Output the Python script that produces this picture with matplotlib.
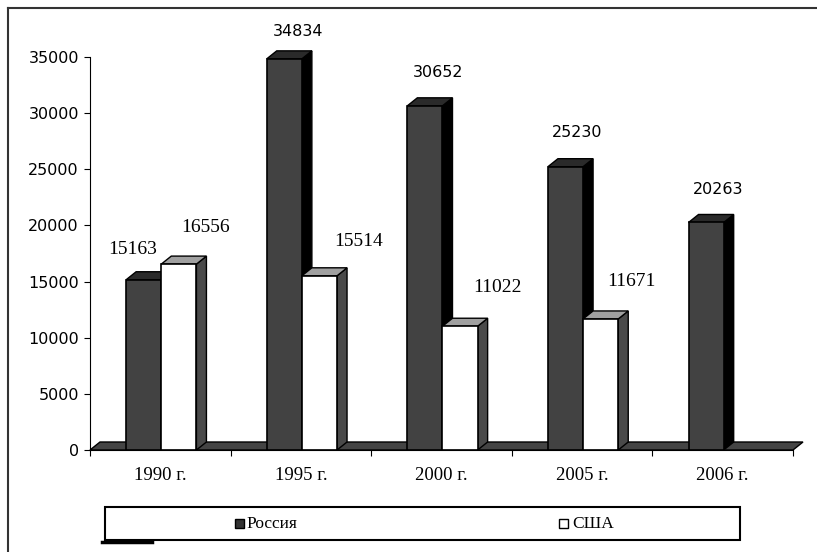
import numpy as np
import matplotlib
matplotlib.use("Agg")
import matplotlib.pyplot as plt
from matplotlib.patches import Polygon, Rectangle
from matplotlib.lines import Line2D

# Data
years = ["1990 г.", "1995 г.", "2000 г.", "2005 г.", "2006 г."]
russia = [15163, 34834, 30652, 25230, 20263]
usa = [16556, 15514, 11022, 11671, None]
series_names = ["Россия", "США"]

# label offsets in pixels (dx, dy) from the top centre of each bar
russia_offsets = [(-11, 30), (14, 27), (13, 33), (12, 34), (12, 33)]
usa_offsets = [(27, 37), (39, 34), (37, 39), (31, 37), (0, 0)]
russia_fonts = ["Liberation Serif", "DejaVu Sans", "DejaVu Sans", "DejaVu Sans", "DejaVu Sans"]

W, H = 817, 552
fig = plt.figure(figsize=(W / 100, H / 100), dpi=100)

# outer frame (left and top only visible)
fig.add_artist(Line2D([8 / W, 8 / W], [0, 1 - 8 / H], color="#333333", lw=1.5))
fig.add_artist(Line2D([8 / W, 1], [1 - 8 / H, 1 - 8 / H], color="#333333", lw=1.5))

ax_left, ax_right = 90, 793
ax_bottom, ax_top = 450, 57
ax = fig.add_axes([ax_left / W, 1 - ax_bottom / H,
                   (ax_right - ax_left) / W, (ax_bottom - ax_top) / H])
ax.set_xlim(0, 5)
ax.set_ylim(0, 35000)

px_x = 5 / (ax_right - ax_left)
px_y = 35000 / (ax_bottom - ax_top)
ddx = 10 * px_x
ddy = 8 * px_y

# floor
floor = Polygon([(0, 0), (5, 0), (5 + ddx, ddy), (ddx, ddy)], closed=True,
                facecolor="#444444", edgecolor="black", lw=1, clip_on=False, zorder=1)
ax.add_patch(floor)


def bar3d(x0, w, h, front, side, top, z):
    ax.add_patch(Polygon([(x0 + w, 0), (x0 + w + ddx, ddy), (x0 + w + ddx, h + ddy), (x0 + w, h)],
                         closed=True, facecolor=side, edgecolor="black", lw=1,
                         clip_on=False, zorder=z))
    ax.add_patch(Polygon([(x0, h), (x0 + ddx, h + ddy), (x0 + w + ddx, h + ddy), (x0 + w, h)],
                         closed=True, facecolor=top, edgecolor="black", lw=1,
                         clip_on=False, zorder=z))
    ax.add_patch(Rectangle((x0, 0), w, h, facecolor=front, edgecolor="black", lw=1.2,
                           clip_on=False, zorder=z + 0.5))


bw = 0.25
for i in range(len(years)):
    x_r = i + 0.257
    bar3d(x_r, bw, russia[i], "#424242", "#000000", "#2a2a2a", 2 + i * 2)
    ax.annotate(str(russia[i]), (x_r + bw / 2, russia[i]), xytext=russia_offsets[i],
                textcoords="offset pixels", ha="center", va="center",
                fontsize=11.5 if russia_fonts[i] == "DejaVu Sans" else 14,
                family=russia_fonts[i], annotation_clip=False, zorder=30)
    if usa[i] is not None:
        x_u = x_r + bw
        bar3d(x_u, bw, usa[i], "#ffffff", "#4a4a4a", "#a0a0a0", 3 + i * 2)
        ax.annotate(str(usa[i]), (x_u + bw / 2, usa[i]), xytext=usa_offsets[i],
                    textcoords="offset pixels", ha="center", va="center",
                    fontsize=14, family="Liberation Serif", annotation_clip=False, zorder=30)

# axes styling
for s in ["top", "right"]:
    ax.spines[s].set_visible(False)
ax.spines["left"].set_zorder(40)
ax.spines["bottom"].set_zorder(40)
ax.set_yticks(np.arange(0, 35001, 5000))
ax.tick_params(axis="y", direction="out", length=4, pad=4, labelsize=11.5)
ax.set_xticks(np.arange(0, 6))
ax.set_xticklabels([])
ax.set_xticks(np.arange(len(years)) + 0.5, minor=True)
ax.set_xticklabels(years, minor=True, family="Liberation Serif", fontsize=13.5)
ax.tick_params(axis="x", which="major", direction="out", length=4)
ax.tick_params(axis="x", which="minor", length=0, pad=12)
ax.patch.set_alpha(0)

# legend box drawn by hand
leg_x0, leg_x1, leg_y0, leg_y1 = 105, 740, 507, 540
fig.add_artist(Rectangle((leg_x0 / W, 1 - leg_y1 / H), (leg_x1 - leg_x0) / W,
                         (leg_y1 - leg_y0) / H, facecolor="white", edgecolor="black", lw=1.5))
fig.add_artist(Line2D([102 / W, 152 / W], [1 - 541.5 / H, 1 - 541.5 / H], color="black", lw=2.5))
ly = 1 - 523.5 / H
sq = 9
fig.add_artist(Rectangle((235 / W, ly - sq / 2 / H), sq / W, sq / H,
                         facecolor="#333333", edgecolor="black", lw=1))
fig.text(246 / W, ly, series_names[0], family="Liberation Serif", fontsize=12.5, va="center")
fig.add_artist(Rectangle((559 / W, ly - sq / 2 / H), sq / W, sq / H,
                         facecolor="white", edgecolor="black", lw=1))
fig.text(572 / W, ly, series_names[1], family="Liberation Serif", fontsize=12.5, va="center")

fig.savefig("out.png", dpi=100)
